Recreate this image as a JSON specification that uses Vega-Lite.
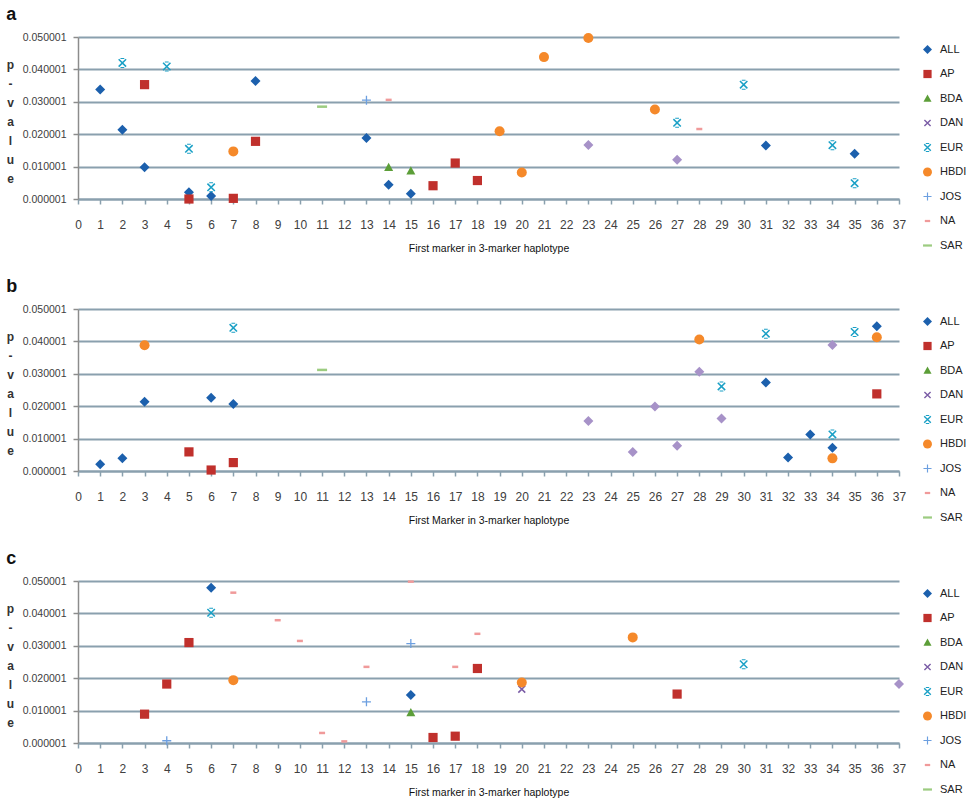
{
  "$schema": "https://vega.github.io/schema/vega-lite/v6.json",
  "padding": {"left": 6, "top": 6, "right": 0, "bottom": 0},
  "background": "white",
  "datasets": {
    "a": [
      {"pop": "ALL", "marker": 1, "pvalue": 0.0338},
      {"pop": "ALL", "marker": 2, "pvalue": 0.0214},
      {"pop": "ALL", "marker": 3, "pvalue": 0.0098},
      {"pop": "ALL", "marker": 5, "pvalue": 0.0021},
      {"pop": "ALL", "marker": 6, "pvalue": 0.0009},
      {"pop": "ALL", "marker": 8, "pvalue": 0.0364},
      {"pop": "ALL", "marker": 13, "pvalue": 0.0188},
      {"pop": "ALL", "marker": 14, "pvalue": 0.0044},
      {"pop": "ALL", "marker": 15, "pvalue": 0.0016},
      {"pop": "ALL", "marker": 31, "pvalue": 0.0165},
      {"pop": "ALL", "marker": 35, "pvalue": 0.014},
      {"pop": "AP", "marker": 3, "pvalue": 0.0353},
      {"pop": "AP", "marker": 5, "pvalue": 0.0000},
      {"pop": "AP", "marker": 7, "pvalue": 0.0002},
      {"pop": "AP", "marker": 8, "pvalue": 0.0178},
      {"pop": "AP", "marker": 16, "pvalue": 0.0041},
      {"pop": "AP", "marker": 17, "pvalue": 0.0111},
      {"pop": "AP", "marker": 18, "pvalue": 0.0057},
      {"pop": "BDA", "marker": 14, "pvalue": 0.0098},
      {"pop": "BDA", "marker": 15, "pvalue": 0.0087},
      {"pop": "EUR", "marker": 2, "pvalue": 0.042},
      {"pop": "EUR", "marker": 4, "pvalue": 0.0409},
      {"pop": "EUR", "marker": 5, "pvalue": 0.0155},
      {"pop": "EUR", "marker": 6, "pvalue": 0.0036},
      {"pop": "EUR", "marker": 27, "pvalue": 0.0235},
      {"pop": "EUR", "marker": 30, "pvalue": 0.0353},
      {"pop": "EUR", "marker": 34, "pvalue": 0.0166},
      {"pop": "EUR", "marker": 35, "pvalue": 0.0049},
      {"pop": "HBDI", "marker": 7, "pvalue": 0.0147},
      {"pop": "HBDI", "marker": 19, "pvalue": 0.0209},
      {"pop": "HBDI", "marker": 20, "pvalue": 0.0082},
      {"pop": "HBDI", "marker": 21, "pvalue": 0.0438},
      {"pop": "HBDI", "marker": 23, "pvalue": 0.0497},
      {"pop": "HBDI", "marker": 26, "pvalue": 0.0276},
      {"pop": "JOS", "marker": 13, "pvalue": 0.0305},
      {"pop": "NA", "marker": 14, "pvalue": 0.0306},
      {"pop": "NA", "marker": 28, "pvalue": 0.0216},
      {"pop": "SAR", "marker": 11, "pvalue": 0.0285},
      {"pop": "Series 10", "marker": 23, "pvalue": 0.0167},
      {"pop": "Series 10", "marker": 27, "pvalue": 0.0121}
    ],
    "b": [
      {"pop": "ALL", "marker": 1, "pvalue": 0.0021},
      {"pop": "ALL", "marker": 2, "pvalue": 0.0039},
      {"pop": "ALL", "marker": 3, "pvalue": 0.0214},
      {"pop": "ALL", "marker": 6, "pvalue": 0.0226},
      {"pop": "ALL", "marker": 7, "pvalue": 0.0207},
      {"pop": "ALL", "marker": 31, "pvalue": 0.0273},
      {"pop": "ALL", "marker": 32, "pvalue": 0.0042},
      {"pop": "ALL", "marker": 33, "pvalue": 0.0113},
      {"pop": "ALL", "marker": 34, "pvalue": 0.0072},
      {"pop": "ALL", "marker": 36, "pvalue": 0.0447},
      {"pop": "AP", "marker": 5, "pvalue": 0.0059},
      {"pop": "AP", "marker": 6, "pvalue": 0.0003},
      {"pop": "AP", "marker": 7, "pvalue": 0.0026},
      {"pop": "AP", "marker": 36, "pvalue": 0.0238},
      {"pop": "EUR", "marker": 7, "pvalue": 0.0442},
      {"pop": "EUR", "marker": 29, "pvalue": 0.0261},
      {"pop": "EUR", "marker": 31, "pvalue": 0.0424},
      {"pop": "EUR", "marker": 34, "pvalue": 0.0113},
      {"pop": "EUR", "marker": 35, "pvalue": 0.0429},
      {"pop": "HBDI", "marker": 3, "pvalue": 0.0388},
      {"pop": "HBDI", "marker": 28, "pvalue": 0.0406},
      {"pop": "HBDI", "marker": 34, "pvalue": 0.0039},
      {"pop": "HBDI", "marker": 36, "pvalue": 0.0413},
      {"pop": "SAR", "marker": 11, "pvalue": 0.0312},
      {"pop": "Series 10", "marker": 23, "pvalue": 0.0154},
      {"pop": "Series 10", "marker": 25, "pvalue": 0.0059},
      {"pop": "Series 10", "marker": 26, "pvalue": 0.0199},
      {"pop": "Series 10", "marker": 27, "pvalue": 0.0078},
      {"pop": "Series 10", "marker": 28, "pvalue": 0.0306},
      {"pop": "Series 10", "marker": 29, "pvalue": 0.0162},
      {"pop": "Series 10", "marker": 34, "pvalue": 0.0389}
    ],
    "c": [
      {"pop": "ALL", "marker": 6, "pvalue": 0.0479},
      {"pop": "ALL", "marker": 15, "pvalue": 0.0148},
      {"pop": "AP", "marker": 3, "pvalue": 0.0089},
      {"pop": "AP", "marker": 4, "pvalue": 0.0182},
      {"pop": "AP", "marker": 5, "pvalue": 0.031},
      {"pop": "AP", "marker": 16, "pvalue": 0.0017},
      {"pop": "AP", "marker": 17, "pvalue": 0.0021},
      {"pop": "AP", "marker": 18, "pvalue": 0.023},
      {"pop": "AP", "marker": 27, "pvalue": 0.0151},
      {"pop": "BDA", "marker": 15, "pvalue": 0.0094},
      {"pop": "DAN", "marker": 20, "pvalue": 0.0166},
      {"pop": "EUR", "marker": 6, "pvalue": 0.0402},
      {"pop": "EUR", "marker": 30, "pvalue": 0.0243},
      {"pop": "HBDI", "marker": 7, "pvalue": 0.0194},
      {"pop": "HBDI", "marker": 20, "pvalue": 0.0187},
      {"pop": "HBDI", "marker": 25, "pvalue": 0.0326},
      {"pop": "JOS", "marker": 4, "pvalue": 0.0007},
      {"pop": "JOS", "marker": 13, "pvalue": 0.0127},
      {"pop": "JOS", "marker": 15, "pvalue": 0.0307},
      {"pop": "NA", "marker": 7, "pvalue": 0.0464},
      {"pop": "NA", "marker": 9, "pvalue": 0.0379},
      {"pop": "NA", "marker": 10, "pvalue": 0.0315},
      {"pop": "NA", "marker": 11, "pvalue": 0.0031},
      {"pop": "NA", "marker": 12, "pvalue": 0.0005},
      {"pop": "NA", "marker": 13, "pvalue": 0.0235},
      {"pop": "NA", "marker": 15, "pvalue": 0.0498},
      {"pop": "NA", "marker": 17, "pvalue": 0.0235},
      {"pop": "NA", "marker": 18, "pvalue": 0.0337},
      {"pop": "Series 10", "marker": 37, "pvalue": 0.0182}
    ]
  },
  "spacing": 20,
  "resolve": {
    "scale": {"color": "independent", "shape": "independent"},
    "legend": {"color": "independent", "shape": "independent"}
  },
  "vconcat": [
    {
      "title": {"text": "a"},
      "width": 821, "height": 162,
      "data": {"name": "a"},
      "mark": {"type": "point", "filled": true, "opacity": 1, "size": 100, "clip": false, "strokeWidth": 0},
      "encoding": {
        "x": {"field": "marker", "type": "quantitative", "scale": {"domain": [0, 37], "nice": false, "zero": false},
          "axis": {"title": "First marker in 3-marker haplotype", "values": [0,1,2,3,4,5,6,7,8,9,10,11,12,13,14,15,16,17,18,19,20,21,22,23,24,25,26,27,28,29,30,31,32,33,34,35,36,37], "format": "d", "grid": false, "domainColor": "#8aa0ae", "domainWidth": 2, "tickColor": "#8aa0ae", "tickSize": 5, "tickWidth": 1.5, "labelPadding": 15, "labelFontSize": 12, "labelColor": "#404040", "labelFont": "Liberation Sans", "labelFlush": false, "titleFontSize": 10.5, "titleFontWeight": "normal", "titleColor": "#111", "titlePadding": 13, "titleFont": "Liberation Sans"}},
        "y": {"field": "pvalue", "type": "quantitative", "scale": {"domain": [0.000001, 0.050001], "nice": false, "zero": false},
          "axis": {"values": [0.000001, 0.010001, 0.020001, 0.030001, 0.040001, 0.050001], "format": ".6f", "grid": true, "gridColor": "#8aa0ae", "gridWidth": 2, "domainColor": "#8c8c8c", "domainWidth": 1.5, "tickColor": "#8c8c8c", "tickSize": 5, "tickWidth": 1.5, "labelPadding": 7, "labelFontSize": 10.5, "labelColor": "#404040", "labelFont": "Liberation Sans", "title": ["p", "-", "v", "a", "l", "u", "e"], "titleAngle": 0, "titleFontWeight": "bold", "titleFontSize": 12, "titleFont": "Liberation Sans", "titleColor": "#333", "titleLineHeight": 19, "titleX": -68, "titleY": 22, "titleAlign": "center", "titleBaseline": "top"}},
        "color": {"field": "pop", "type": "nominal",
          "scale": {"domain": ["ALL", "AP", "BDA", "DAN", "EUR", "HBDI", "JOS", "NA", "SAR", "Series 10"], "range": ["#1c60ad", "#c0302c", "#5c9e38", "#7a5ca6", "#1aa0c6", "#f5892a", "#6c9fe0", "#f09a9a", "#9ccc80", "#a792c8"]},
          "legend": {"values": ["ALL", "AP", "BDA", "DAN", "EUR", "HBDI", "JOS", "NA", "SAR"], "title": null}},
        "shape": {"field": "pop", "type": "nominal",
          "scale": {"domain": ["ALL", "AP", "BDA", "DAN", "EUR", "HBDI", "JOS", "NA", "SAR", "Series 10"], "range": ["diamond", "M-0.92,-0.92L0.92,-0.92L0.92,0.92L-0.92,0.92Z", "M0,-0.9L0.9,0.75L-0.9,0.75Z", "M-0.8,-0.58L-0.58,-0.8L0.8,0.58L0.58,0.8Z M-0.8,0.58L0.58,-0.8L0.8,-0.58L-0.58,0.8Z", "M-0.85,-0.63L-0.63,-0.85L0.85,0.63L0.63,0.85Z M-0.85,0.63L0.63,-0.85L0.85,-0.63L-0.63,0.85Z M-0.38,-1L0.38,-1L0.38,-0.8L-0.38,-0.8Z M-0.38,0.8L0.38,0.8L0.38,1L-0.38,1Z", "circle", "M-0.9,-0.13L0.9,-0.13L0.9,0.13L-0.9,0.13Z M-0.13,-0.9L0.13,-0.9L0.13,0.9L-0.13,0.9Z", "M-0.6,-0.25L0.6,-0.25L0.6,0.25L-0.6,0.25Z", "M-1,-0.25L1,-0.25L1,0.25L-1,0.25Z", "diamond"]},
          "legend": {"values": ["ALL", "AP", "BDA", "DAN", "EUR", "HBDI", "JOS", "NA", "SAR"], "title": null}}
      }
    },
    {
      "title": {"text": "b"},
      "width": 821, "height": 162,
      "data": {"name": "b"},
      "mark": {"type": "point", "filled": true, "opacity": 1, "size": 100, "clip": false, "strokeWidth": 0},
      "encoding": {
        "x": {"field": "marker", "type": "quantitative", "scale": {"domain": [0, 37], "nice": false, "zero": false},
          "axis": {"title": "First Marker in 3-marker haplotype", "values": [0,1,2,3,4,5,6,7,8,9,10,11,12,13,14,15,16,17,18,19,20,21,22,23,24,25,26,27,28,29,30,31,32,33,34,35,36,37], "format": "d", "grid": false, "domainColor": "#8aa0ae", "domainWidth": 2, "tickColor": "#8aa0ae", "tickSize": 5, "tickWidth": 1.5, "labelPadding": 15, "labelFontSize": 12, "labelColor": "#404040", "labelFont": "Liberation Sans", "labelFlush": false, "titleFontSize": 10.5, "titleFontWeight": "normal", "titleColor": "#111", "titlePadding": 13, "titleFont": "Liberation Sans"}},
        "y": {"field": "pvalue", "type": "quantitative", "scale": {"domain": [0.000001, 0.050001], "nice": false, "zero": false},
          "axis": {"values": [0.000001, 0.010001, 0.020001, 0.030001, 0.040001, 0.050001], "format": ".6f", "grid": true, "gridColor": "#8aa0ae", "gridWidth": 2, "domainColor": "#8c8c8c", "domainWidth": 1.5, "tickColor": "#8c8c8c", "tickSize": 5, "tickWidth": 1.5, "labelPadding": 7, "labelFontSize": 10.5, "labelColor": "#404040", "labelFont": "Liberation Sans", "title": ["p", "-", "v", "a", "l", "u", "e"], "titleAngle": 0, "titleFontWeight": "bold", "titleFontSize": 12, "titleFont": "Liberation Sans", "titleColor": "#333", "titleLineHeight": 19, "titleX": -68, "titleY": 22, "titleAlign": "center", "titleBaseline": "top"}},
        "color": {"field": "pop", "type": "nominal",
          "scale": {"domain": ["ALL", "AP", "BDA", "DAN", "EUR", "HBDI", "JOS", "NA", "SAR", "Series 10"], "range": ["#1c60ad", "#c0302c", "#5c9e38", "#7a5ca6", "#1aa0c6", "#f5892a", "#6c9fe0", "#f09a9a", "#9ccc80", "#a792c8"]},
          "legend": {"values": ["ALL", "AP", "BDA", "DAN", "EUR", "HBDI", "JOS", "NA", "SAR"], "title": null}},
        "shape": {"field": "pop", "type": "nominal",
          "scale": {"domain": ["ALL", "AP", "BDA", "DAN", "EUR", "HBDI", "JOS", "NA", "SAR", "Series 10"], "range": ["diamond", "M-0.92,-0.92L0.92,-0.92L0.92,0.92L-0.92,0.92Z", "M0,-0.9L0.9,0.75L-0.9,0.75Z", "M-0.8,-0.58L-0.58,-0.8L0.8,0.58L0.58,0.8Z M-0.8,0.58L0.58,-0.8L0.8,-0.58L-0.58,0.8Z", "M-0.85,-0.63L-0.63,-0.85L0.85,0.63L0.63,0.85Z M-0.85,0.63L0.63,-0.85L0.85,-0.63L-0.63,0.85Z M-0.38,-1L0.38,-1L0.38,-0.8L-0.38,-0.8Z M-0.38,0.8L0.38,0.8L0.38,1L-0.38,1Z", "circle", "M-0.9,-0.13L0.9,-0.13L0.9,0.13L-0.9,0.13Z M-0.13,-0.9L0.13,-0.9L0.13,0.9L-0.13,0.9Z", "M-0.6,-0.25L0.6,-0.25L0.6,0.25L-0.6,0.25Z", "M-1,-0.25L1,-0.25L1,0.25L-1,0.25Z", "diamond"]},
          "legend": {"values": ["ALL", "AP", "BDA", "DAN", "EUR", "HBDI", "JOS", "NA", "SAR"], "title": null}}
      }
    },
    {
      "title": {"text": "c"},
      "width": 821, "height": 162,
      "data": {"name": "c"},
      "mark": {"type": "point", "filled": true, "opacity": 1, "size": 100, "clip": false, "strokeWidth": 0},
      "encoding": {
        "x": {"field": "marker", "type": "quantitative", "scale": {"domain": [0, 37], "nice": false, "zero": false},
          "axis": {"title": "First marker in 3-marker haplotype", "values": [0,1,2,3,4,5,6,7,8,9,10,11,12,13,14,15,16,17,18,19,20,21,22,23,24,25,26,27,28,29,30,31,32,33,34,35,36,37], "format": "d", "grid": false, "domainColor": "#8aa0ae", "domainWidth": 2, "tickColor": "#8aa0ae", "tickSize": 5, "tickWidth": 1.5, "labelPadding": 15, "labelFontSize": 12, "labelColor": "#404040", "labelFont": "Liberation Sans", "labelFlush": false, "titleFontSize": 10.5, "titleFontWeight": "normal", "titleColor": "#111", "titlePadding": 13, "titleFont": "Liberation Sans"}},
        "y": {"field": "pvalue", "type": "quantitative", "scale": {"domain": [0.000001, 0.050001], "nice": false, "zero": false},
          "axis": {"values": [0.000001, 0.010001, 0.020001, 0.030001, 0.040001, 0.050001], "format": ".6f", "grid": true, "gridColor": "#8aa0ae", "gridWidth": 2, "domainColor": "#8c8c8c", "domainWidth": 1.5, "tickColor": "#8c8c8c", "tickSize": 5, "tickWidth": 1.5, "labelPadding": 7, "labelFontSize": 10.5, "labelColor": "#404040", "labelFont": "Liberation Sans", "title": ["p", "-", "v", "a", "l", "u", "e"], "titleAngle": 0, "titleFontWeight": "bold", "titleFontSize": 12, "titleFont": "Liberation Sans", "titleColor": "#333", "titleLineHeight": 19, "titleX": -68, "titleY": 22, "titleAlign": "center", "titleBaseline": "top"}},
        "color": {"field": "pop", "type": "nominal",
          "scale": {"domain": ["ALL", "AP", "BDA", "DAN", "EUR", "HBDI", "JOS", "NA", "SAR", "Series 10"], "range": ["#1c60ad", "#c0302c", "#5c9e38", "#7a5ca6", "#1aa0c6", "#f5892a", "#6c9fe0", "#f09a9a", "#9ccc80", "#a792c8"]},
          "legend": {"values": ["ALL", "AP", "BDA", "DAN", "EUR", "HBDI", "JOS", "NA", "SAR"], "title": null}},
        "shape": {"field": "pop", "type": "nominal",
          "scale": {"domain": ["ALL", "AP", "BDA", "DAN", "EUR", "HBDI", "JOS", "NA", "SAR", "Series 10"], "range": ["diamond", "M-0.92,-0.92L0.92,-0.92L0.92,0.92L-0.92,0.92Z", "M0,-0.9L0.9,0.75L-0.9,0.75Z", "M-0.8,-0.58L-0.58,-0.8L0.8,0.58L0.58,0.8Z M-0.8,0.58L0.58,-0.8L0.8,-0.58L-0.58,0.8Z", "M-0.85,-0.63L-0.63,-0.85L0.85,0.63L0.63,0.85Z M-0.85,0.63L0.63,-0.85L0.85,-0.63L-0.63,0.85Z M-0.38,-1L0.38,-1L0.38,-0.8L-0.38,-0.8Z M-0.38,0.8L0.38,0.8L0.38,1L-0.38,1Z", "circle", "M-0.9,-0.13L0.9,-0.13L0.9,0.13L-0.9,0.13Z M-0.13,-0.9L0.13,-0.9L0.13,0.9L-0.13,0.9Z", "M-0.6,-0.25L0.6,-0.25L0.6,0.25L-0.6,0.25Z", "M-1,-0.25L1,-0.25L1,0.25L-1,0.25Z", "diamond"]},
          "legend": {"values": ["ALL", "AP", "BDA", "DAN", "EUR", "HBDI", "JOS", "NA", "SAR"], "title": null}}
      }
    }
  ],
  "config": {
    "view": {"stroke": null},
    "font": "Liberation Sans",
    "title": {"anchor": "start", "frame": "bounds", "fontSize": 18, "fontWeight": "bold", "font": "Liberation Sans", "color": "#111", "offset": 8},
    "legend": {
      "orient": "right", "offset": 16,
      "symbolSize": 80, "labelFontSize": 11, "labelColor": "#222", "labelFont": "Liberation Sans",
      "labelOffset": 7, "rowPadding": 12.5, "padding": 7, "symbolStrokeWidth": 0
    }
  }
}
